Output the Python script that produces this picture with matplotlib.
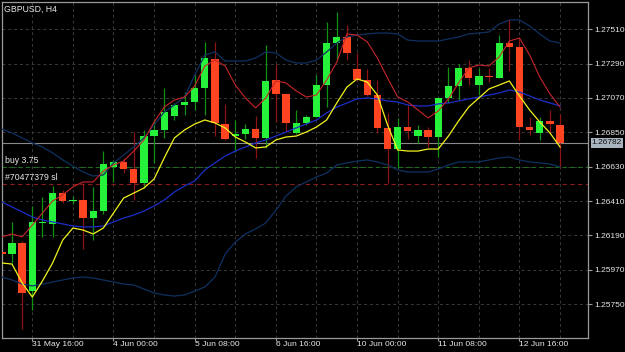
import numpy as np
import matplotlib.pyplot as plt

plt.rcParams['font.family'] = ['Liberation Sans', 'DejaVu Sans']

# GBPUSD H4 candles (index 0 = 31 May 16:00)
opens = [1.26085, 1.26069, 1.26143, 1.25833, 1.26268, 1.26263, 1.26461, 1.26410, 1.26416, 1.26303,
         1.26348, 1.26630, 1.26660, 1.26615, 1.26525, 1.26826, 1.26865, 1.26955, 1.27025, 1.27042,
         1.27132, 1.27322, 1.26901, 1.26828, 1.26839, 1.26871, 1.26812, 1.27185, 1.27094, 1.26848,
         1.26908, 1.26950, 1.27153, 1.27424, 1.27461, 1.27256, 1.27185, 1.27089, 1.26876, 1.26743,
         1.26884, 1.26828, 1.26865, 1.26818, 1.27072, 1.27147, 1.27260, 1.27153, 1.27211, 1.27200,
         1.27424, 1.27399, 1.26882, 1.26844, 1.26923, 1.26895]
highs = [1.26090, 1.26274, 1.26154, 1.26378, 1.26438, 1.26506, 1.26480, 1.26442, 1.26525, 1.26500,
         1.26732, 1.26673, 1.26686, 1.26854, 1.26865, 1.26933, 1.27132, 1.27038, 1.27110, 1.27217,
         1.27431, 1.27427, 1.27030, 1.26929, 1.26903, 1.26955, 1.27409, 1.27286, 1.27102, 1.26993,
         1.26961, 1.27217, 1.27559, 1.27619, 1.27538, 1.27360, 1.27254, 1.27185, 1.26974, 1.26942,
         1.27023, 1.26897, 1.26884, 1.27076, 1.27267, 1.27288, 1.27313, 1.27260, 1.27262, 1.27473,
         1.27574, 1.27446, 1.26950, 1.26950, 1.26993, 1.26967]
lows = [1.26064, 1.26011, 1.25588, 1.25712, 1.26177, 1.26179, 1.26397, 1.26391, 1.26102, 1.26160,
        1.26327, 1.26534, 1.26589, 1.26416, 1.26493, 1.26652, 1.26814, 1.26929, 1.26961, 1.26993,
        1.26961, 1.26826, 1.26801, 1.26726, 1.26805, 1.26684, 1.26748, 1.26918, 1.26854, 1.26839,
        1.26897, 1.26948, 1.27014, 1.27313, 1.27313, 1.27179, 1.27083, 1.26844, 1.26523, 1.26623,
        1.26805, 1.26784, 1.26758, 1.26694, 1.27036, 1.27057, 1.27153, 1.27089, 1.27174, 1.27198,
        1.27245, 1.26801, 1.26833, 1.26801, 1.26848, 1.26620]
closes = [1.26070, 1.26143, 1.25819, 1.26275, 1.26275, 1.26463, 1.26410, 1.26415, 1.26303, 1.26346,
          1.26645, 1.26660, 1.26615, 1.26525, 1.26828, 1.26865, 1.26982, 1.27025, 1.27042, 1.27132,
          1.27324, 1.26908, 1.26807, 1.26839, 1.26871, 1.26816, 1.27179, 1.27094, 1.26912, 1.26908,
          1.26950, 1.27153, 1.27424, 1.27461, 1.27360, 1.27185, 1.27089, 1.26880, 1.26743, 1.26884,
          1.26860, 1.26865, 1.26820, 1.27072, 1.27147, 1.27260, 1.27200, 1.27211, 1.27203, 1.27424,
          1.27399, 1.26882, 1.26865, 1.26923, 1.26903, 1.26782]

band_upper = [1.26871, 1.26846, 1.26814, 1.26782, 1.26756, 1.26718, 1.26673, 1.26634, 1.26596, 1.26570,
              1.26577, 1.26654, 1.26705, 1.26756, 1.26814, 1.26897, 1.26980, 1.27025, 1.27076, 1.27217,
              1.27345, 1.27365, 1.27307, 1.27307, 1.27307, 1.27326, 1.27365, 1.27358, 1.27313, 1.27294,
              1.27294, 1.27313, 1.27365, 1.27422, 1.27461, 1.27473, 1.27480, 1.27486, 1.27486, 1.27480,
              1.27441, 1.27435, 1.27435, 1.27435, 1.27448, 1.27461, 1.27480, 1.27486, 1.27493, 1.27544,
              1.27570, 1.27570, 1.27531, 1.27480, 1.27435, 1.27422]
band_mid = [1.26404, 1.26372, 1.26340, 1.26308, 1.26288, 1.26276, 1.26263, 1.26250, 1.26244, 1.26244,
            1.26250, 1.26276, 1.26301, 1.26320, 1.26346, 1.26378, 1.26416, 1.26468, 1.26506, 1.26538,
            1.26609, 1.26654, 1.26698, 1.26730, 1.26756, 1.26782, 1.26801, 1.26826, 1.26852, 1.26878,
            1.26903, 1.26929, 1.26974, 1.27012, 1.27038, 1.27064, 1.27070, 1.27064, 1.27051, 1.27044,
            1.27025, 1.27019, 1.27019, 1.27032, 1.27038, 1.27051, 1.27064, 1.27076, 1.27089, 1.27102,
            1.27121, 1.27108, 1.27083, 1.27057, 1.27038, 1.27019]
band_lower = [1.25923, 1.25904, 1.25878, 1.25866, 1.25878, 1.25891, 1.25904, 1.25917, 1.25923, 1.25917,
              1.25904, 1.25891, 1.25878, 1.25872, 1.25846, 1.25821, 1.25808, 1.25801, 1.25808, 1.25833,
              1.25859, 1.25923, 1.26070, 1.26147, 1.26199, 1.26231, 1.26269, 1.26352, 1.26442, 1.26500,
              1.26532, 1.26564, 1.26589, 1.26641, 1.26654, 1.26666, 1.26673, 1.26660, 1.26641, 1.26609,
              1.26596, 1.26596, 1.26596, 1.26615, 1.26641, 1.26660, 1.26660, 1.26660, 1.26673, 1.26686,
              1.26692, 1.26673, 1.26660, 1.26654, 1.26647, 1.26628]
ma_red = [1.26180, 1.26199, 1.26180, 1.26256, 1.26333, 1.26410, 1.26449, 1.26500, 1.26532, 1.26532,
          1.26602, 1.26641, 1.26666, 1.26730, 1.26801, 1.26916, 1.27012, 1.27057, 1.27076, 1.27147,
          1.27275, 1.27313, 1.27275, 1.27153, 1.27070, 1.27006, 1.27070, 1.27179, 1.27166, 1.27115,
          1.27076, 1.27089, 1.27185, 1.27300, 1.27480, 1.27473, 1.27429, 1.27326, 1.27198, 1.27076,
          1.27044, 1.26993, 1.26942, 1.26987, 1.27064, 1.27166, 1.27262, 1.27281, 1.27275, 1.27333,
          1.27435, 1.27454, 1.27345, 1.27204, 1.27096, 1.27012]
ma_yellow = [1.26013, 1.26006, 1.25885, 1.25795, 1.25898, 1.26013, 1.26160, 1.26237, 1.26224, 1.26199,
             1.26237, 1.26333, 1.26429, 1.26461, 1.26493, 1.26551, 1.26686, 1.26814, 1.26865, 1.26903,
             1.26929, 1.26910, 1.26878, 1.26820, 1.26788, 1.26750, 1.26756, 1.26801, 1.26820, 1.26826,
             1.26852, 1.26884, 1.26929, 1.27038, 1.27140, 1.27192, 1.27172, 1.27089, 1.26897, 1.26737,
             1.26730, 1.26730, 1.26743, 1.26743, 1.26826, 1.26923, 1.27012, 1.27070, 1.27128, 1.27153,
             1.27179, 1.27083, 1.26993, 1.26916, 1.26846, 1.26756]

price_ticks = [1.27510, 1.27290, 1.27070, 1.26850, 1.26630, 1.26410, 1.26190, 1.25970, 1.25750]
date_ticks = [0, 8, 16, 24, 32, 40, 48]
date_labels = ['31 May 16:00', '4 Jun 00:00', '5 Jun 08:00', '6 Jun 16:00',
               '10 Jun 00:00', '11 Jun 08:00', '12 Jun 16:00']
bid = 1.26782
buy_level = 1.26630
sl_level = 1.26517

o = np.array(opens); h = np.array(highs); l = np.array(lows); c = np.array(closes)
x = np.arange(len(o)) - 3
up = c >= o

fig = plt.figure(figsize=(6.25, 3.52), dpi=100, facecolor='black')
ax = fig.add_axes([1.7 / 625, 13.7 / 352, 586.6 / 625, 336.6 / 352], facecolor='black')
ax.set_xlim(-3.015, 54.78)
ax.set_ylim(1.255304, 1.276868)

# grid
for gx in range(0, 55, 4):
    ax.axvline(gx, color='#3a3a3a', lw=0.7, ls=(0, (3, 3)), zorder=0)
for gy in price_ticks:
    ax.axhline(gy, color='#3a3a3a', lw=0.7, ls=(0, (3, 3)), zorder=0)

# levels
ax.axhline(buy_level, color='#1d6b1d', lw=0.8, ls=(0, (4, 3)), zorder=1)
ax.axhline(sl_level, color='#8c1a1a', lw=0.8, ls=(0, (4, 3)), zorder=1)
ax.axhline(bid, color='#8a8a8a', lw=0.8, zorder=1)
ax.annotate('buy 3.75', xy=(0.006, buy_level), xycoords=('axes fraction', 'data'),
            xytext=(0, 1.5), textcoords='offset points', color='#e8e8e8', fontsize=6.3, va='bottom')
ax.annotate('#70477379 sl', xy=(0.006, sl_level), xycoords=('axes fraction', 'data'),
            xytext=(0, 1.5), textcoords='offset points', color='#e8e8e8', fontsize=6.3, va='bottom')

# candles
ax.vlines(x[up], l[up], h[up], color='#129212', lw=0.9, zorder=2)
ax.vlines(x[~up], l[~up], h[~up], color='#8e1414', lw=0.9, zorder=2)
body = np.maximum(np.abs(c - o), 0.00005)
ax.bar(x[up], body[up], bottom=np.minimum(o, c)[up], width=0.72, color='#26f23c', lw=0, zorder=3)
ax.bar(x[~up], body[~up], bottom=np.minimum(o, c)[~up], width=0.72, color='#ff4422', lw=0, zorder=3)

# indicators
ax.plot(x, band_upper, color='#0f3160', lw=0.9, zorder=4)
ax.plot(x, band_lower, color='#0f3160', lw=0.9, zorder=4)
ax.plot(x, band_mid, color='#1c2ec8', lw=0.9, zorder=4)
ax.plot(x, ma_red, color='#c8262a', lw=0.8, zorder=4)
ax.plot(x, ma_yellow, color='#f2f21e', lw=0.9, zorder=4)

# axes styling
for s in ax.spines.values():
    s.set_color('#9a9a9a')
    s.set_linewidth(0.9)
ax.yaxis.tick_right()
ax.set_yticks(price_ticks)
ax.set_yticklabels(['%.5f' % p for p in price_ticks])
ax.set_xticks(date_ticks)
ax.set_xticklabels(date_labels)
for t in ax.get_xticklabels():
    t.set_ha('left')
ax.tick_params(axis='both', colors='#9a9a9a', labelcolor='#e8e8e8', width=0.8)
ax.tick_params(axis='y', length=3, pad=1.2, labelsize=6.0)
ax.tick_params(axis='x', length=2, pad=0.3, labelsize=6.1)

ax.annotate('%.5f' % bid, xy=(1.0, bid), xycoords=('axes fraction', 'data'),
            xytext=(2.5, 0), textcoords='offset points', va='center', ha='left',
            fontsize=6.0, color='#101010',
            bbox=dict(boxstyle='square,pad=0.15', facecolor='#a8b4c0', edgecolor='none'))

fig.text(4 / 625, 1 - 9 / 352, 'GBPUSD, H4', color='#e8e8e8', fontsize=6.3, va='center', ha='left')

fig.savefig('out.png', dpi=100, facecolor='black')
